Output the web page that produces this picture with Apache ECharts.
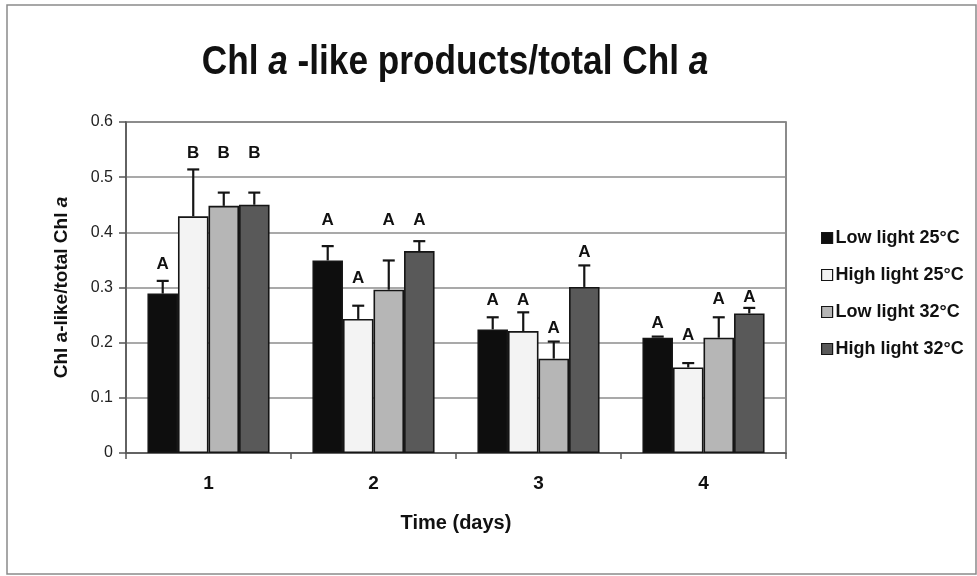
<!DOCTYPE html>
<html>
<head>
<meta charset="utf-8">
<script src="https://cdn.jsdelivr.net/npm/echarts@6/dist/echarts.min.js"></script>
<style>html,body{margin:0;padding:0;background:#fff}#c{width:977px;height:576px}</style>
</head>
<body>
<div id="c"></div>
<script>
// ---- data ----
var days = ['1', '2', '3', '4'];
var seriesNames = ['Low light 25°C', 'High light 25°C', 'Low light 32°C', 'High light 32°C'];
var lowLight25 = [0.289, 0.349, 0.224, 0.209];
var highLight25 = [0.429, 0.243, 0.221, 0.155];
var lowLight32 = [0.448, 0.296, 0.171, 0.209];
var highLight32 = [0.450, 0.366, 0.301, 0.253];
// upper ends of the error bars
var lowLight25Err = [0.312, 0.375, 0.246, 0.211];
var highLight25Err = [0.514, 0.267, 0.255, 0.163];
var lowLight32Err = [0.472, 0.349, 0.202, 0.246];
var highLight32Err = [0.472, 0.384, 0.340, 0.263];
// significance letters and the value level they sit at
var lowLight25Letters = ['A', 'A', 'A', 'A'];
var highLight25Letters = ['B', 'A', 'A', 'A'];
var lowLight32Letters = ['B', 'A', 'A', 'A'];
var highLight32Letters = ['B', 'A', 'A', 'A'];
var lowLight25LetterAt = [0.342, 0.422, 0.277, 0.235];
var highLight25LetterAt = [0.543, 0.317, 0.277, 0.214];
var lowLight32LetterAt = [0.543, 0.422, 0.226, 0.279];
var highLight32LetterAt = [0.543, 0.422, 0.364, 0.283];
var yTicks = [0, 0.1, 0.2, 0.3, 0.4, 0.5, 0.6];

var means = [lowLight25, highLight25, lowLight32, highLight32];
var errs = [lowLight25Err, highLight25Err, lowLight32Err, highLight32Err];
var letters = [lowLight25Letters, highLight25Letters, lowLight32Letters, highLight32Letters];
var letterAt = [lowLight25LetterAt, highLight25LetterAt, lowLight32LetterAt, highLight32LetterAt];
var colors = ['#0e0e0e', '#f3f3f3', '#b6b6b6', '#595959'];
var GAP = 0.26;

var chart = echarts.init(document.getElementById('c'), null, {renderer: 'canvas'});
var font = 'Liberation Sans, Arial, Helvetica, sans-serif';

var series = [];
means.forEach(function (m, si) {
  series.push({
    name: seriesNames[si], type: 'bar', data: m,
    barGap: '0%', barCategoryGap: (GAP * 100) + '%',
    itemStyle: {color: colors[si], borderColor: '#151515', borderWidth: 1.6},
    z: 2
  });
});
means.forEach(function (m, si) {
  var data = m.map(function (v, i) { return [i, v, errs[si][i], letterAt[si][i]]; });
  series.push({
    type: 'custom', name: 'err' + si, data: data, z: 5,
    encode: {x: 0, y: [1, 2, 3]},
    renderItem: function (params, api) {
      var idx = api.value(0);
      var base = api.coord([idx, api.value(1)]);
      var top = api.coord([idx, api.value(2)]);
      var lab = api.coord([idx, api.value(3)]);
      var band = api.size([1, 0])[0];
      var bw = band * (1 - GAP) / 4;
      var x = base[0] + (si - 1.5) * bw;
      var cap = 6;
      var st = {stroke: '#151515', lineWidth: 2.2};
      var children = [];
      if (base[1] - top[1] > 1.5) {
        children.push({type: 'line', shape: {x1: x, y1: base[1], x2: x, y2: top[1]}, style: st});
      }
      children.push({type: 'line', shape: {x1: x - cap, y1: top[1], x2: x + cap, y2: top[1]}, style: st});
      children.push({type: 'text', x: x, y: lab[1], style: {
        text: letters[si][params.dataIndex], fill: '#111', font: 'bold 17px ' + font,
        align: 'center', verticalAlign: 'middle'}});
      return {type: 'group', children: children};
    }
  });
});

chart.setOption({
  backgroundColor: '#fff',
  animation: false,
  graphic: [{
    type: 'rect', shape: {x: 7, y: 5, width: 969, height: 569},
    style: {fill: 'none', stroke: '#8a8a8a', lineWidth: 1.5}, silent: true
  }, {
    type: 'text', x: 455, y: 63, scaleX: 0.88,
    style: {
      text: '{n|Chl }{i|a}{n| -like products/total Chl }{i|a}',
      align: 'center', verticalAlign: 'middle',
      rich: {
        n: {fontFamily: font, fontWeight: 'bold', fontSize: 40, fill: '#111'},
        i: {fontFamily: font, fontWeight: 'bold', fontStyle: 'italic', fontSize: 40, fill: '#111'}
      }
    }
  }],
  legend: {
    data: seriesNames, orient: 'vertical', left: 816, top: 224,
    itemWidth: 11, itemHeight: 11, itemGap: 19, icon: 'rect',
    textStyle: {fontFamily: font, fontWeight: 'bold', fontSize: 18, color: '#111', padding: [0, 0, 0, -2]},
    itemStyle: {borderColor: '#151515', borderWidth: 1.2}
  },
  grid: {left: 126, right: 191, top: 122, bottom: 123, show: true, borderColor: '#666', borderWidth: 1.5, backgroundColor: 'transparent'},
  xAxis: {
    type: 'category', data: days,
    name: 'Time (days)', nameLocation: 'middle', nameGap: 60,
    nameTextStyle: {fontFamily: font, fontWeight: 'bold', fontSize: 20, color: '#111'},
    axisLine: {lineStyle: {color: '#555', width: 1.5}},
    axisTick: {show: true, length: 6, lineStyle: {color: '#555', width: 1.5}},
    axisLabel: {fontFamily: font, fontWeight: 'bold', fontSize: 19, color: '#111', margin: 21}
  },
  yAxis: {
    type: 'value', min: yTicks[0], max: yTicks[yTicks.length - 1], interval: 0.1,
    name: '{n|Chl a-like/total Chl }{i|a}', nameLocation: 'middle', nameGap: 55, nameRotate: 90,
    nameTextStyle: {rich: {
      n: {fontFamily: font, fontWeight: 'bold', fontSize: 19, color: '#111'},
      i: {fontFamily: font, fontWeight: 'bold', fontStyle: 'italic', fontSize: 19, color: '#111'}
    }},
    axisLine: {show: true, lineStyle: {color: '#555', width: 1.5}},
    axisTick: {show: true, length: 7, lineStyle: {color: '#555', width: 1.5}},
    axisLabel: {fontFamily: font, fontSize: 16, color: '#222', margin: 13,
      formatter: function (v) { return v === 0 ? '0' : v.toFixed(1); }},
    splitLine: {lineStyle: {color: '#8c8c8c', width: 1.5}}
  },
  series: series
});
</script>
</body>
</html>
